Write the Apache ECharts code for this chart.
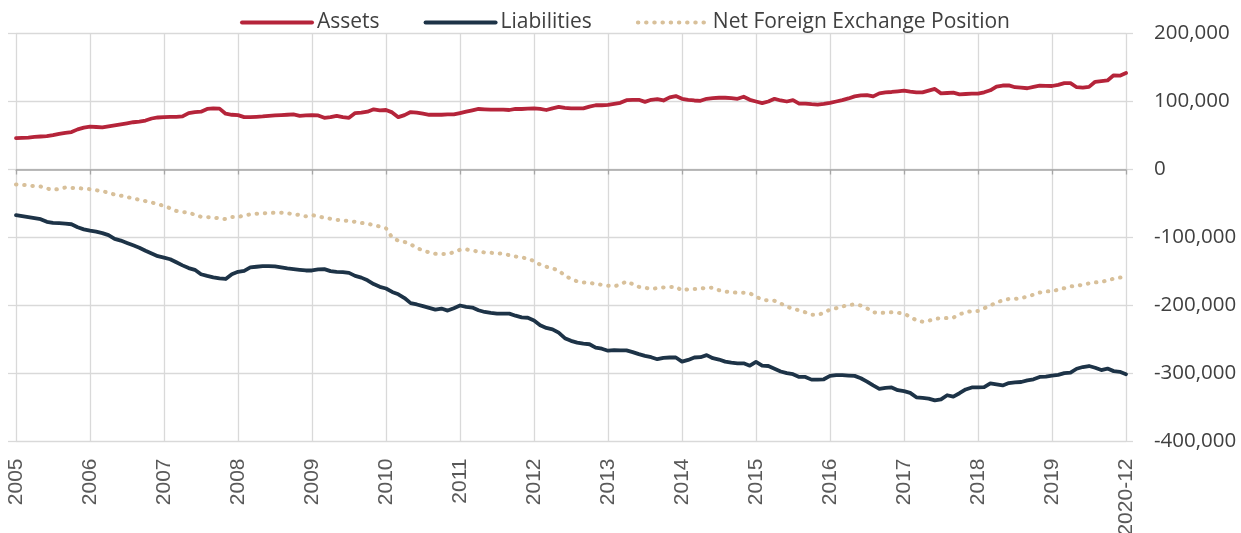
<!DOCTYPE html>
<html>
<head>
<meta charset="utf-8">
<script src="https://cdn.jsdelivr.net/npm/echarts@6/dist/echarts.min.js"></script>
<style>
  html, body { margin: 0; padding: 0; background: #fff; }
  #chart { width: 1241px; height: 533px; }
</style>
</head>
<body>
<div id="chart"></div>
<script>
// tick labels on the time axis (one per year, last one is the end month)
const yearTicks = ['2005', '2006', '2007', '2008', '2009', '2010', '2011', '2012',
  '2013', '2014', '2015', '2016', '2017', '2018', '2019', '2020-12'];

// monthly values, in thousands
const assets = [
  46, 46.5, 47, 48, 48.5, 49, 50.5, 52.5, 54, 55, 59, 61.5,
  63, 62.5, 62, 63.5, 65, 66.5, 68, 69.5, 70.5, 72, 75, 76.5,
  77, 77.5, 77.5, 78, 83, 84.5, 85, 89, 90, 89.5, 82, 80.5,
  80, 77, 77, 77.5, 78, 79, 79.5, 80, 80.5, 81, 79, 79.5,
  80, 79.5, 76, 77, 79, 77, 76, 83, 83.5, 85, 88.5, 87,
  87.5, 84, 77, 80, 84.5, 83.5, 82, 80.5, 80.5, 80.5, 81, 81,
  83, 85, 87, 89, 88.5, 88, 88, 88, 87.5, 89, 89, 89.5,
  90, 89, 87.5, 90, 92, 90.5, 90, 90, 90, 92.5, 94.5, 94.5,
  95, 96.5, 98, 102, 102.5, 102.5, 99.5, 102.5, 103.5, 101.5, 106, 108,
  104, 102.5, 101.5, 101, 104, 105, 105.5, 105.5, 105, 104, 107, 102.5,
  100, 97.5, 100, 104, 101.5, 100, 102, 97, 97, 96, 95.5, 96.5,
  98, 100, 102, 104.5, 107.5, 109, 109.5, 107.5, 112, 113.5, 114, 115,
  116, 114.5, 113.5, 113.5, 116, 118.5, 112, 112.5, 113, 110.5, 111, 111.5,
  111.5, 113.5, 116.5, 122, 123.5, 123.8, 121, 120.5, 119.5, 121.5, 123.2, 123,
  122.8, 124.5, 127, 127, 121, 120.5, 121.5, 129, 130, 131, 138.5, 138,
  142
];

const liabilities = [
  -67, -68.5, -70, -71.5, -73, -77, -78.5, -79, -79.5, -80.5, -85, -88,
  -90, -91.5, -93.5, -96.5, -102, -104.5, -108, -111.5, -115, -119.5, -123.5, -127.5,
  -129.5, -132, -136.5, -141, -145, -147.5, -154, -156.5, -158.5, -160, -161, -154,
  -150.5, -149, -144, -143, -142, -142, -142.5, -144, -145.5, -146.5, -147.5, -148.5,
  -148.5, -147, -146.5, -149.5, -150.5, -151, -152, -156.5, -159, -163, -168.5, -172.5,
  -175, -180, -183.5, -189, -196.5, -198.5, -201, -203.5, -206, -204.5, -207.5, -204,
  -200, -202, -203, -207, -209.5, -211, -212, -212, -212, -215, -217.5, -218,
  -222, -229, -233, -235, -240, -248, -252, -254.5, -256, -257, -262, -263.5,
  -266.5, -265.5, -266, -266, -268.5, -271.5, -274, -276, -279, -277, -276.5, -276.5,
  -282.5, -280, -276.5, -276, -273, -277.5, -279.5, -282.5, -284, -285, -285, -288.5,
  -283, -288.5, -289, -293, -297, -299.5, -301, -305, -305, -309, -309, -308.5,
  -303.5, -302.5, -302.5, -303, -303.5, -307, -312, -317.5, -322.5, -321, -320.5, -324.5,
  -326, -328.5, -335, -336, -337, -339.5, -338, -332, -334, -329, -323.5, -320.5,
  -320.5, -320, -314.5, -316, -317.5, -314, -313, -312.5, -310, -308.5, -305, -304.5,
  -303.2, -302, -299.5, -298.8, -293, -290.5, -289, -291.5, -294.9, -292.8, -296.5, -297.5,
  -301
];

const netPosition = [
  -22, -22.5, -23.5, -24.5, -25, -28, -30, -28.5, -26.5, -27, -27.5, -28,
  -29, -30.5, -32, -34, -37, -38.5, -40.5, -42.5, -44.5, -46.5, -48.5, -51,
  -53.5, -57, -61, -62.5, -63.5, -66.5, -69.5, -70, -70.5, -72, -73, -70,
  -70, -67.5, -66, -65, -64.5, -64, -63.5, -63.5, -64.5, -65.5, -67, -69,
  -67, -69, -71, -72.5, -74, -75, -75.5, -77, -78.5, -80, -81.5, -84,
  -86.5, -100, -104.7, -106.5, -110, -115.5, -119, -122, -124, -124.3, -124.3, -121.5,
  -118, -117.5, -119, -121, -122, -122.5, -123.2, -124, -126, -128, -129, -131.5,
  -134.5, -140, -143, -145.5, -148.5, -156, -161, -164.5, -166, -166.5, -168.5, -169.5,
  -171, -172, -169, -164.5, -168.5, -172.5, -174, -175.5, -174.5, -173.5, -172.8, -172.5,
  -178, -176, -175.7, -175.5, -173.5, -174, -177.5, -179.5, -180.5, -181.2, -181.2, -182,
  -187, -191.5, -192.5, -193, -197, -201.5, -205, -207, -210, -213.5, -213.5, -211,
  -206, -204, -201.5, -199, -198.5, -200, -204, -210, -211, -210.5, -210, -210.5,
  -212.5, -216, -222, -223.8, -222.5, -219.5, -218.8, -218.5, -218, -213, -210, -208.1,
  -208, -204, -200, -195.5, -192.5, -190.5, -190.4, -189, -187, -184, -181, -179,
  -179.5, -176.5, -174.5, -172, -171, -169.5, -167.5, -166, -165.5, -163, -160.5, -159,
  -158.5
];

// month categories, year label at each January, last point is 2020-12
const months = [];
for (let i = 0; i < assets.length; i++) {
  const y = Math.floor(i / 12);
  months.push(i % 12 === 0 ? yearTicks[y] : yearTicks[y] + '-' + String(i % 12 + 1).padStart(2, '0'));
}
const isYearTick = (i) => i % 12 === 0 || i === months.length - 1;

const gridColor = '#d9d9d9';

const option = {
  animation: false,
  backgroundColor: '#fff',
  textStyle: {
    fontFamily: 'Open Sans'
  },
  legend: {
    left: 235,
    top: 7,
    itemWidth: 70,
    itemHeight: 14,
    itemGap: 44,
    textStyle: {
      fontSize: 21,
      color: '#404040',
      fontFamily: 'Open Sans'
    },
    itemStyle: {
      opacity: 0
    },
    lineStyle: {
      width: 4,
      cap: 'round'
    },
    data: ['Assets', 'Liabilities', 'Net Foreign Exchange Position']
  },
  grid: {
    left: 16,
    right: 115,
    top: 33.5,
    bottom: 91.5,
    outerBoundsMode: 'none',
    containLabel: false
  },
  xAxis: [{
    type: 'category',
    data: months,
    boundaryGap: false,
    position: 'bottom',
    axisLine: { show: false, onZero: false },
    axisTick: { show: false },
    axisLabel: {
      interval: (i) => isYearTick(i),
      rotate: 90,
      margin: 17,
      fontFamily: 'Liberation Sans',
      fontSize: 21,
      color: '#595959'
    },
    splitLine: {
      show: true,
      interval: (i) => isYearTick(i),
      lineStyle: { color: gridColor, width: 1.3 }
    }
  }, {
    type: 'category',
    data: months,
    boundaryGap: false,
    position: 'bottom',
    axisLine: {
      show: true,
      onZero: true,
      onZeroAxisIndex: 0,
      lineStyle: { color: '#a6a6a6', width: 1.5 }
    },
    axisTick: {
      show: true,
      interval: (i) => isYearTick(i),
      length: 5,
      lineStyle: { color: '#a6a6a6', width: 1.3 }
    },
    axisLabel: { show: false },
    splitLine: { show: false }
  }],
  yAxis: [{
    type: 'value',
    position: 'right',
    min: -400,
    max: 200,
    interval: 100,
    axisLine: { show: false },
    axisTick: {
      show: true,
      length: 7,
      lineStyle: { color: gridColor, width: 1.3 }
    },
    axisLabel: {
      margin: 28,
      fontSize: 20.5,
      color: '#404040',
      fontFamily: 'Open Sans',
      formatter: (v) => (v === 0 ? '0' : v + ',000')
    },
    splitLine: {
      lineStyle: { color: gridColor, width: 1.3 }
    }
  }, {
    type: 'value',
    position: 'left',
    min: -400,
    max: 200,
    interval: 100,
    axisLine: { show: false },
    axisTick: {
      show: true,
      length: 8,
      lineStyle: { color: gridColor, width: 1.3 }
    },
    axisLabel: { show: false },
    splitLine: { show: false }
  }],
  series: [{
    name: 'Assets',
    type: 'line',
    data: assets,
    symbol: 'none',
    lineStyle: { color: '#b5243a', width: 3.8, cap: 'round', join: 'round' },
    itemStyle: { color: '#b5243a' }
  }, {
    name: 'Liabilities',
    type: 'line',
    data: liabilities,
    symbol: 'none',
    lineStyle: { color: '#1d3347', width: 3.8, cap: 'round', join: 'round' },
    itemStyle: { color: '#1d3347' }
  }, {
    name: 'Net Foreign Exchange Position',
    type: 'line',
    data: netPosition,
    symbol: 'none',
    lineStyle: { color: '#d8c09a', width: 4, type: [0.5, 7.7], cap: 'round' },
    itemStyle: { color: '#d8c09a' }
  }]
};

const chart = echarts.init(document.getElementById('chart'));
chart.setOption(option);
</script>
</body>
</html>
